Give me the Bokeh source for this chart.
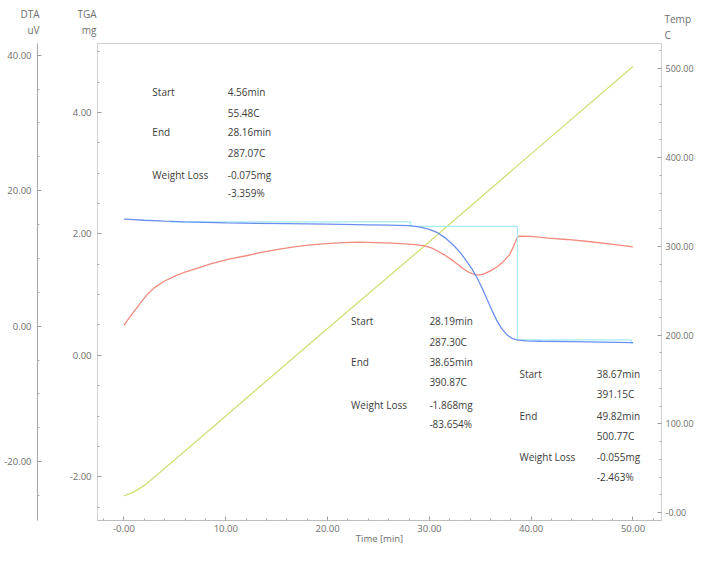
from bokeh.plotting import figure
from bokeh.layouts import column
from bokeh.models import Range1d, LinearAxis, FixedTicker, Label, PrintfTickFormatter
from bokeh.embed import file_html
from bokeh.resources import INLINE

# ---------------- data ----------------
time_tga = [0, 1, 2, 4, 6, 8, 10, 13, 16, 20, 24, 26, 28, 29, 30, 30.8, 31.6, 32.4, 33.1, 33.7,
            34.2, 34.7, 35.2, 35.6, 36.1, 36.6, 37.1, 37.6, 38.1, 38.6, 39.5, 41, 44, 47, 50]
tga_mg = [2.245, 2.235, 2.225, 2.21, 2.198, 2.19, 2.183, 2.175, 2.168, 2.16, 2.15, 2.145, 2.135, 2.115,
          2.075, 2.02, 1.93, 1.81, 1.68, 1.54, 1.42, 1.27, 1.10, 0.95, 0.76, 0.58, 0.44, 0.34, 0.28,
          0.255, 0.24, 0.232, 0.225, 0.218, 0.21]

time_dta = [0, 0.3, 0.7, 1.2, 1.7, 2.3, 3.0, 3.9, 5.0, 6.0, 7.1, 8.5, 10.3, 12.0, 13.5, 15.0, 16.7,
            18.3, 19.9, 21.5, 23.1, 24.7, 26.3, 27.6, 28.6, 29.5, 30.2, 30.8, 31.5, 32.1, 32.8, 33.4,
            33.9, 34.4, 34.8, 35.3, 35.9, 36.6, 37.3, 37.9, 38.3, 38.6, 38.8, 40.0, 41.7, 43.5, 45.6,
            47.8, 50.0]
dta_uv = [0.1, 0.8, 1.6, 2.6, 3.6, 4.7, 5.7, 6.6, 7.4, 8.0, 8.5, 9.2, 9.9, 10.4, 10.9, 11.3, 11.7,
          12.0, 12.2, 12.35, 12.4, 12.35, 12.25, 12.15, 12.05, 11.85, 11.55, 11.1, 10.5, 9.9, 9.1, 8.4,
          7.95, 7.65, 7.55, 7.7, 8.1, 8.7, 9.6, 10.6, 11.9, 13.0, 13.3, 13.25, 13.0, 12.8, 12.5,
          12.1, 11.7]

time_temp = [0, 1, 2, 3, 4, 4.56, 10, 20, 28.16, 38.65, 49.82, 50]
temp_c = [19, 23.5, 30.8, 40.2, 50.0, 55.48, 109, 207.5, 287.07, 390.87, 500.77, 502.5]

step_time = [4.56, 28.16, 28.16, 38.65, 38.65, 49.82, 49.82, 50.0]
step_tga = [2.198, 2.198, 2.123, 2.123, 0.255, 0.255, 0.200, 0.200]

row_names = ["Start", "", "End", "", "Weight Loss", ""]
block1_values = ["4.56min", "55.48C", "28.16min", "287.07C", "-0.075mg", "-3.359%"]
block2_values = ["28.19min", "287.30C", "38.65min", "390.87C", "-1.868mg", "-83.654%"]
block3_values = ["38.67min", "391.15C", "49.82min", "500.77C", "-0.055mg", "-2.463%"]

x_ticks = [0, 10, 20, 30, 40, 50]
tga_ticks = [-2, 0, 2, 4]
dta_ticks = [-20, 0, 20, 40]
temp_ticks = [0, 100, 200, 300, 400, 500]

top_texts = ["DTA", "uV", "TGA", "mg", "Temp", "C"]

# ---------------- layout constants ----------------
FONT = "Open Sans"
TICK_GRAY = "#6e6e6e"
TEXT_DARK = "#3c3c3c"
W = 696
HEAD_H = 40
MAIN_H = 507
FRAME_LEFT = 97

# positions of the header texts in header pixels (x, y, align)
top_pos = [(39, 13, "right"), (39, 29, "right"), (96, 13, "right"), (96, 29, "right"),
           (664, 18, "left"), (664, 34, "left")]

block_layout = [
    # (label x, value x, row y's) in data units (min, mg)
    (2.79, 10.19, [4.336, 3.984, 3.68, 3.328, 2.976, 2.672], block1_values),
    (22.31, 30.0, [0.56, 0.224, -0.112, -0.432, -0.816, -1.136], block2_values),
    (38.85, 46.44, [-0.304, -0.64, -0.992, -1.328, -1.68, -2.0], block3_values),
]

# ---------------- header with the axis titles ----------------
head = figure(width=W, height=HEAD_H, output_backend="svg", toolbar_location=None,
              x_range=Range1d(0, W), y_range=Range1d(HEAD_H, 0),
              x_axis_type=None, y_axis_type=None,
              min_border_left=0, min_border_right=0, min_border_top=0, min_border_bottom=0)
head.frame_align = False
head.outline_line_color = None
head.xgrid.visible = False
head.ygrid.visible = False
for txt, (tx, ty, al) in zip(top_texts, top_pos):
    head.add_layout(Label(x=tx, y=ty, text=txt, text_font=FONT, text_font_size="10px",
                          text_color=TICK_GRAY, text_baseline="middle", text_align=al))

# ---------------- main chart ----------------
p = figure(width=W, height=MAIN_H, output_backend="svg", toolbar_location=None,
           x_range=Range1d(-2.6, 52.8), y_range=Range1d(-2.72, 5.136),
           min_border_top=3, min_border_right=4, min_border_bottom=0, min_border_left=FRAME_LEFT)
p.frame_align = False
p.extra_y_ranges = {"dta": Range1d(-28.67, 41.72), "temp": Range1d(-8.75, 528.4)}
p.xgrid.visible = False
p.ygrid.visible = False
p.outline_line_color = "#d0d0d0"


def style_axis(ax, ticks, minor, line_color, fmt_override=None, standoff=6, size="9.5px"):
    ax.ticker = FixedTicker(ticks=ticks, minor_ticks=minor)
    ax.formatter = PrintfTickFormatter(format="%.2f")
    if fmt_override:
        ax.major_label_overrides = fmt_override
    ax.axis_line_color = line_color
    ax.major_tick_line_color = "#9a9a9a"
    ax.minor_tick_line_color = "#a8a8a8"
    ax.major_tick_in = 4
    ax.major_tick_out = 0
    ax.minor_tick_in = 2
    ax.minor_tick_out = 0
    ax.major_label_text_font = FONT
    ax.major_label_text_font_size = size
    ax.major_label_text_color = TICK_GRAY
    ax.major_label_standoff = standoff


# x axis
xa = p.xaxis[0]
style_axis(xa, x_ticks, [v for v in range(-2, 53, 2)], "#bdbdbd", {0: "-0.00"}, standoff=4)
xa.axis_label = "Time [min]"
xa.axis_label_text_font = FONT
xa.axis_label_text_font_size = "9.5px"
xa.axis_label_text_font_style = "normal"
xa.axis_label_text_color = TICK_GRAY
xa.axis_label_standoff = -3

# TGA axis (inner left)
ya = p.yaxis[0]
style_axis(ya, tga_ticks, [-2.5, -1.5, -1, -0.5, 0.5, 1, 1.5, 2.5, 3, 3.5, 4.5, 5], "#d0d0d0")

# blank gap between the two left axes
spacer = LinearAxis(ticker=FixedTicker(ticks=[5.0]), major_tick_out=29, major_tick_in=0,
                    major_tick_line_color="white", axis_line_color=None,
                    major_label_standoff=0, major_label_overrides={5.0: ""})
p.add_layout(spacer, "left")

# DTA axis (outer left)
dta_axis = LinearAxis(y_range_name="dta")
style_axis(dta_axis, dta_ticks, [-25, -15, -10, -5, 5, 10, 15, 25, 30, 35], "#a6a6a6")
p.add_layout(dta_axis, "left")

# Temp axis (right)
temp_axis = LinearAxis(y_range_name="temp")
style_axis(temp_axis, temp_ticks, [v for v in range(-20, 530, 20)], "#d0d0d0", {0: "-0.00"},
           standoff=4, size="9px")
p.add_layout(temp_axis, "right")

# curves
p.line(time_temp, temp_c, y_range_name="temp", line_color="#d3df78", line_width=1.3)
p.line(time_dta, dta_uv, y_range_name="dta", line_color="#f28a7e", line_width=1.3)
p.line(step_time, step_tga, line_color="#a6ecf5", line_width=1.2)
p.line(time_tga, tga_mg, line_color="#6a8ff0", line_width=1.3)

# annotation blocks
for lx, vx, ys, vals in block_layout:
    for name, val, yy in zip(row_names, vals, ys):
        if name:
            p.add_layout(Label(x=lx, y=yy, text=name, text_font=FONT, text_font_size="10px",
                               text_color=TEXT_DARK, text_baseline="middle", text_align="left"))
        p.add_layout(Label(x=vx, y=yy, text=val, text_font=FONT, text_font_size="10px",
                           text_color=TEXT_DARK, text_baseline="middle", text_align="left"))

layout = column(head, p, spacing=0)
open("out.html", "w").write(file_html(layout, INLINE))
